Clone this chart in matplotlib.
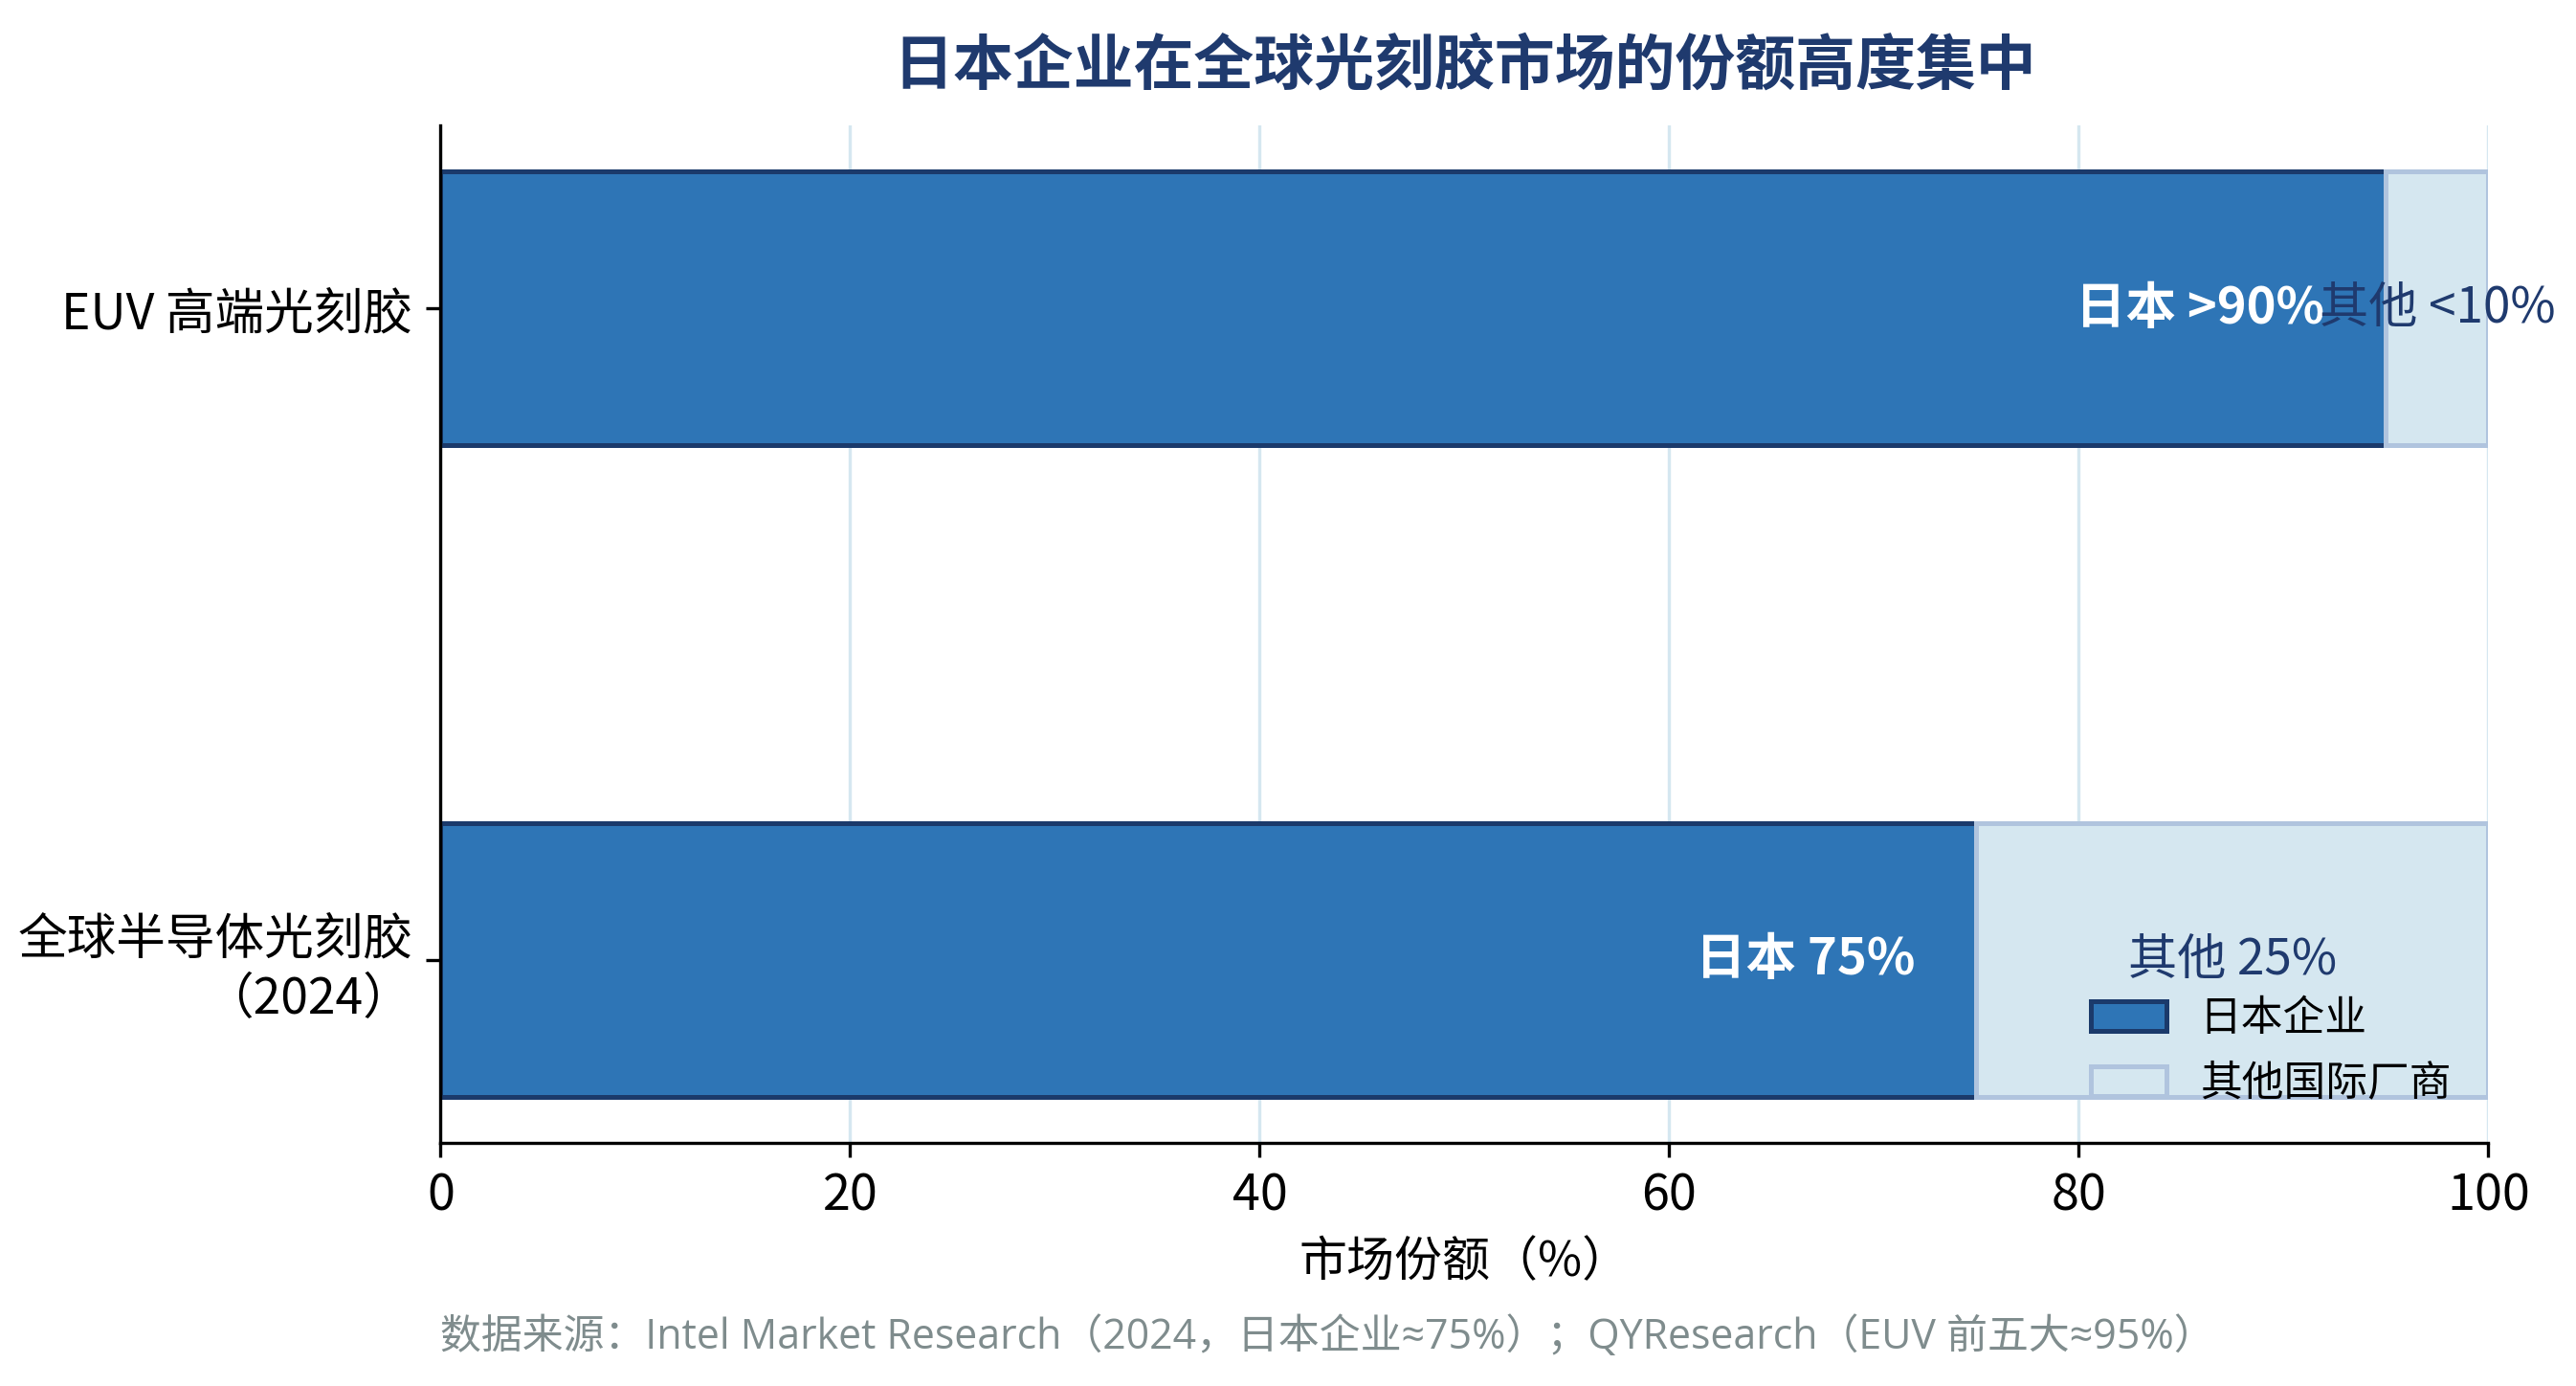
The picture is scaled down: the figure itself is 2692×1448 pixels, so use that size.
import numpy as np
import matplotlib
matplotlib.use("Agg")
import matplotlib.pyplot as plt

plt.rcParams['font.family'] = ['Noto Sans CJK SC', 'DejaVu Sans']

# data
categories = ['全球半导体光刻胶\n（2024）', 'EUV 高端光刻胶']
japan_share = [75, 95]
other_share = [25, 5]
japan_labels = ['日本 75%', '日本 >90%']
other_labels = ['其他 25%', '其他 <10%']
series_names = ['日本企业', '其他国际厂商']

c_japan = '#2E75B6'
c_japan_edge = '#1B3A6B'
c_other = '#D5E7F0'
c_other_edge = '#B0C4DE'
c_navy = '#1F3A6E'

fig = plt.figure(figsize=(2692 / 300, 1448 / 300), dpi=300)
ax = fig.add_axes([0.171, 0.1754, 0.795, 0.734])

y = np.arange(len(categories))
ax.barh(y, japan_share, height=0.42, color=c_japan, edgecolor=c_japan_edge,
        linewidth=1.2, label=series_names[0], zorder=2)
ax.barh(y, other_share, left=japan_share, height=0.42, color=c_other,
        edgecolor=c_other_edge, linewidth=1.2, label=series_names[1], zorder=2)

for i in range(len(categories)):
    ax.text(japan_share[i] - 3, y[i], japan_labels[i], ha='right', va='center',
            color='white', fontsize=12.6, fontweight='bold', zorder=3)
    ax.text(japan_share[i] + other_share[i] / 2, y[i], other_labels[i],
            ha='center', va='center', color=c_navy, fontsize=12.3, zorder=3)

ax.set_xlim(0, 100)
ax.set_yticks(y)
ax.set_yticklabels(categories, fontsize=12.4)
ax.tick_params(axis='x', labelsize=12.5)
ax.set_xlabel('市场份额（%）', fontsize=12)
ax.set_title('日本企业在全球光刻胶市场的份额高度集中', fontsize=15.1,
             fontweight='bold', color=c_navy, pad=10.5)

ax.grid(axis='x', color='#D5E7F0', linewidth=0.8, zorder=0)
ax.set_axisbelow(True)
for s in ['top', 'right']:
    ax.spines[s].set_visible(False)

ax.legend(loc='lower right', frameon=False, fontsize=10.5, handlelength=1.8)

fig.text(0.171, 0.035, '数据来源：Intel Market Research（2024，日本企业≈75%）；QYResearch（EUV 前五大≈95%）',
         fontsize=10.3, color='#7F8C8D', ha='left', va='center',
         family=['Open Sans', 'Noto Sans CJK SC'])

fig.savefig('out.png', dpi=300)
